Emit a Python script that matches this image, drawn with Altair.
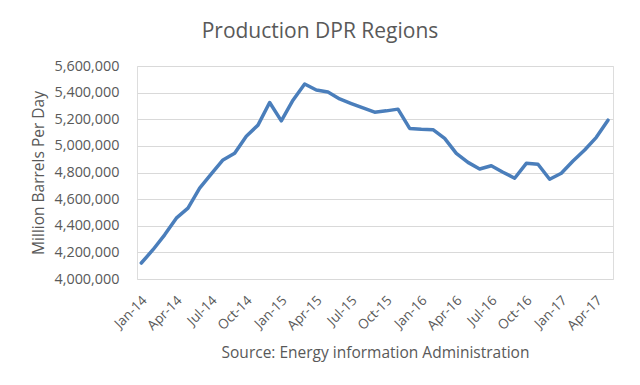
import json
import altair as alt
import pandas as pd

months = [
    "Jan-14", "Feb-14", "Mar-14", "Apr-14", "May-14", "Jun-14", "Jul-14", "Aug-14", "Sep-14", "Oct-14", "Nov-14", "Dec-14",
    "Jan-15", "Feb-15", "Mar-15", "Apr-15", "May-15", "Jun-15", "Jul-15", "Aug-15", "Sep-15", "Oct-15", "Nov-15", "Dec-15",
    "Jan-16", "Feb-16", "Mar-16", "Apr-16", "May-16", "Jun-16", "Jul-16", "Aug-16", "Sep-16", "Oct-16", "Nov-16", "Dec-16",
    "Jan-17", "Feb-17", "Mar-17", "Apr-17", "May-17",
]
production = [
    4120000, 4220000, 4332000, 4457000, 4532000, 4682000, 4789000, 4894000, 4944000, 5073000, 5156000, 5326000,
    5188000, 5343000, 5465000, 5420000, 5405000, 5353000, 5318000, 5285000, 5253000, 5263000, 5276000, 5131000,
    5124000, 5122000, 5056000, 4944000, 4876000, 4826000, 4851000, 4802000, 4757000, 4869000, 4862000, 4749000,
    4794000, 4886000, 4969000, 5064000, 5193000,
]
tick_index = list(range(0, len(months), 3))
y_ticks = list(range(4000000, 5600001, 200000))

df = pd.DataFrame({"idx": list(range(len(months))), "month": months, "value": production})

FONT = "Open Sans"
GREY = "#595959"

label_expr = json.dumps(months) + "[datum.value]"

chart = (
    alt.Chart(df)
    .mark_line(color="#4a7ebb", strokeWidth=3.5, strokeJoin="round", strokeCap="round")
    .encode(
        x=alt.X(
            "idx:Q",
            scale=alt.Scale(domain=[-0.37, 40.43], nice=False, zero=False),
            axis=alt.Axis(
                values=tick_index,
                labelExpr=label_expr,
                labelAngle=-45,
                labelAlign="right",
                labelBaseline="middle",
                labelPadding=19,
                labelOffset=3,
                labelFont=FONT,
                labelFontSize=13.5,
                labelColor=GREY,
                labelOverlap=False,
                ticks=False,
                tickSize=0,
                domain=False,
                grid=False,
                title="Source: Energy information Administration",
                titleFont=FONT,
                titleFontSize=15.5,
                titleFontWeight="normal",
                titleColor=GREY,
                titleBaseline="alphabetic",
                titleY=78,
            ),
        ),
        y=alt.Y(
            "value:Q",
            scale=alt.Scale(domain=[4000000, 5600000], nice=False, zero=False),
            axis=alt.Axis(
                values=y_ticks,
                format=",.0f",
                labelPadding=18,
                labelFont=FONT,
                labelFontSize=14.4,
                labelColor=GREY,
                ticks=False,
                tickSize=0,
                domain=False,
                grid=True,
                gridColor="#d9d9d9",
                gridWidth=1,
                title="Million Barrels Per Day",
                titleFont=FONT,
                titleFontSize=15.5,
                titleFontWeight="normal",
                titleColor=GREY,
                titleAngle=-90,
                titleBaseline="alphabetic",
                titleX=-94,
                titleY=106.5,
            ),
        ),
    )
    .properties(
        width=476,
        height=213,
        autosize=alt.AutoSizeParams(type="none"),
        padding={"left": 129, "top": 58, "right": 19, "bottom": 98},
        title=alt.TitleParams(
            "Production DPR Regions",
            font=FONT,
            fontSize=21,
            fontWeight="normal",
            color=GREY,
            anchor="middle",
            baseline="alphabetic",
            offset=-1,
            dx=-55,
        ),
    )
    .configure_view(stroke=None)
    .configure(background="white")
)

chart.save("out.html", embed_options={"renderer": "svg", "actions": False})
